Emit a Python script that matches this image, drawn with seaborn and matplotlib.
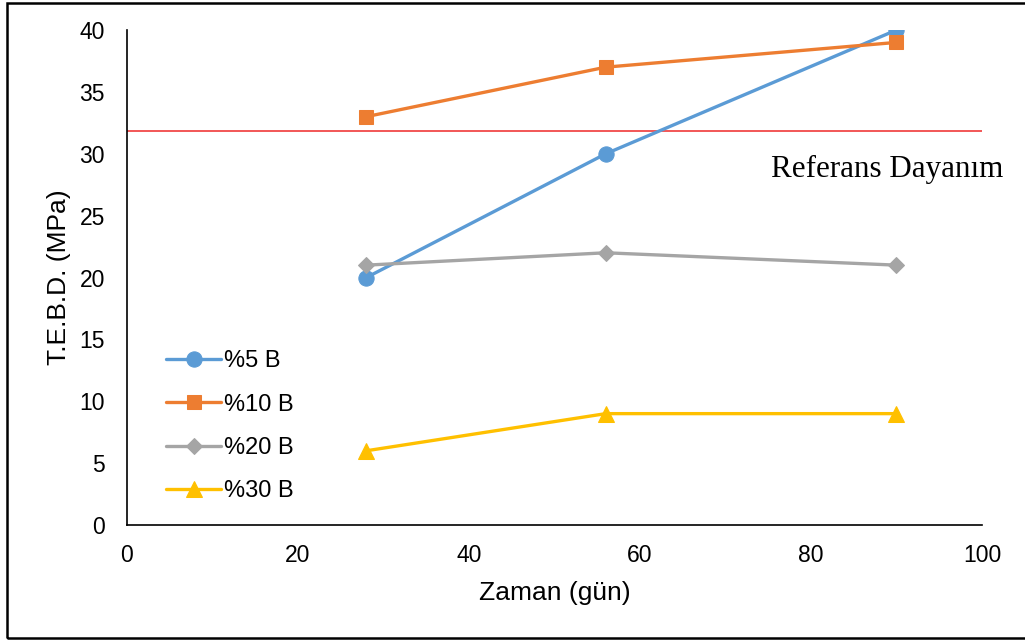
import matplotlib
matplotlib.use("Agg")
import matplotlib.pyplot as plt
from matplotlib.patches import Rectangle
import seaborn as sns
import pandas as pd

# Curing time (days) and strength values for each mix
days = [28, 56, 90]
series_names = ["%5 B", "%10 B", "%20 B", "%30 B"]
b5 = [20, 30, 40]
b10 = [33, 37, 39]
b20 = [21, 22, 21]
b30 = [6, 9, 9]
reference_strength = 31.8
reference_label = "Referans Dayanım"

colors = ["#5B9BD5", "#ED7D31", "#A5A5A5", "#FFC000"]
markers = ["o", "s", "D", "^"]
marker_sizes = [11, 10.5, 8.5, 11]

rows = []
for name, vals in zip(series_names, [b5, b10, b20, b30]):
    for d, v in zip(days, vals):
        rows.append({"Zaman": d, "TEBD": v, "Seri": name})
df = pd.DataFrame(rows)

sns.set_style("white")
plt.rcParams["font.family"] = ["Liberation Sans", "DejaVu Sans"]
plt.rcParams["text.color"] = "black"
plt.rcParams["axes.labelcolor"] = "black"

fig = plt.figure(figsize=(10.25, 6.43), dpi=100)
ax = fig.add_axes([0.1239, 0.1835, 0.8341, 0.7698])

for name, c, m, ms in zip(series_names, colors, markers, marker_sizes):
    sns.lineplot(data=df[df["Seri"] == name], x="Zaman", y="TEBD", ax=ax,
                 color=c, marker=m, markersize=ms, markeredgecolor=c,
                 linewidth=2.4, label=name, zorder=3)

ax.axhline(reference_strength, color="#F03A3A", linewidth=1.2, zorder=2)
ax.text(0.889, 0.719, reference_label, transform=ax.transAxes,
        ha="center", va="center", fontsize=22.3, family="Liberation Serif",
        color="black")

ax.set_xlim(0, 100)
ax.set_ylim(0, 40)
ax.set_xticks(range(0, 101, 20))
ax.set_yticks(range(0, 41, 5))
ax.tick_params(axis="both", direction="in", length=6, width=1.2,
               labelsize=16.5, colors="black")
ax.tick_params(axis="y", pad=16)
ax.tick_params(axis="x", pad=14)
for side in ["top", "right"]:
    ax.spines[side].set_visible(False)
for side in ["left", "bottom"]:
    ax.spines[side].set_color("black")
    ax.spines[side].set_linewidth(1.2)

ax.set_xlabel("Zaman (gün)", fontsize=19, labelpad=10)
ax.set_ylabel("T.E.B.D. (MPa)", fontsize=19, labelpad=6)

leg = ax.legend(loc="upper left", bbox_to_anchor=(0.035, 0.372), frameon=False,
                fontsize=17, handlelength=2.3, handletextpad=0.15,
                labelspacing=0.9, borderaxespad=0)

fig.patches.append(Rectangle((0.007, 0.008), 1.0, 0.988,
                             transform=fig.transFigure, fill=False,
                             edgecolor="black", linewidth=1.8))

fig.savefig("out.png", dpi=100)
